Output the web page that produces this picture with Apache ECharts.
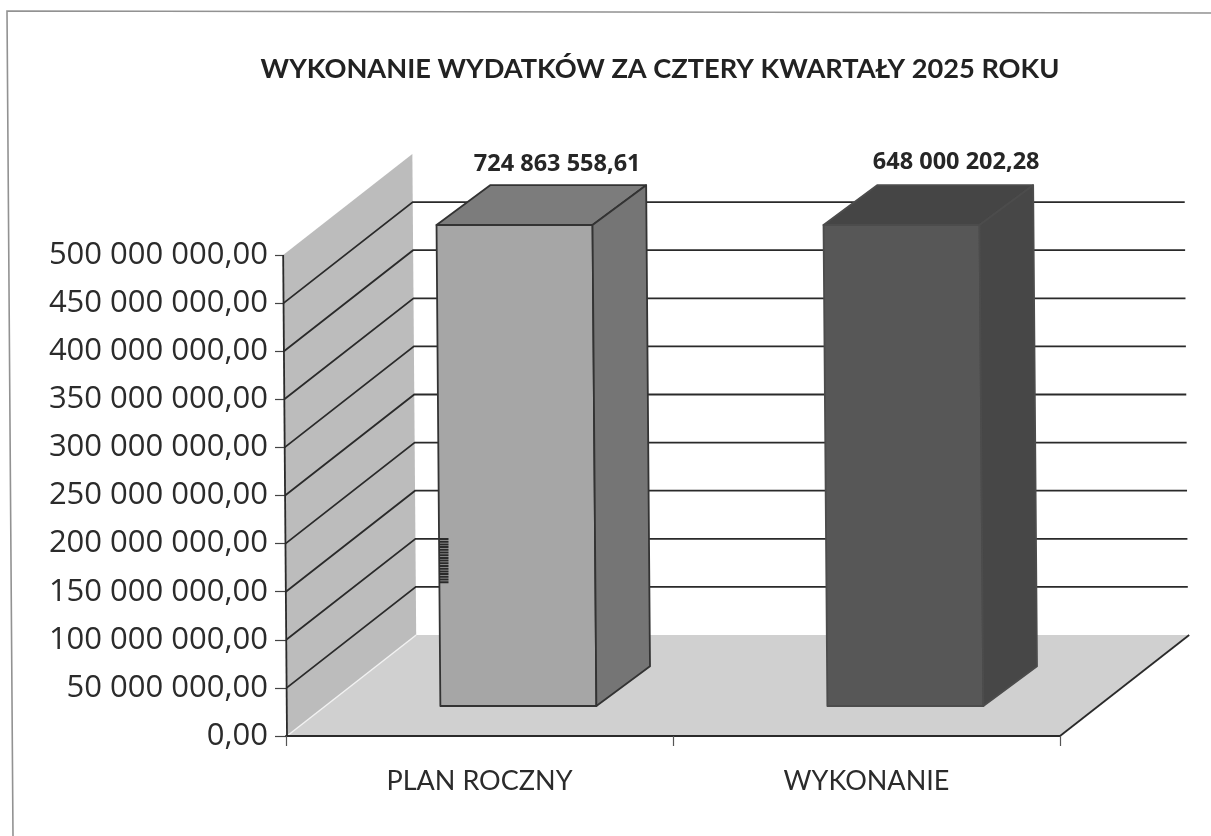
<!DOCTYPE html>
<html><head><meta charset="utf-8">
<style>html,body{margin:0;padding:0;background:#fff}#c{width:1211px;height:836px}</style>
<script src="https://cdn.jsdelivr.net/npm/echarts@6/dist/echarts.min.js"></script>
</head><body><div id="c"></div>
<script>
const titleText = 'WYKONANIE WYDATKÓW ZA CZTERY KWARTAŁY 2025 ROKU';
const categories = ['PLAN ROCZNY', 'WYKONANIE'];
const barValues = [724863558.61, 648000202.28];
const gridValues = [50000000,100000000,150000000,200000000,250000000,300000000,350000000,400000000,450000000];
const axisMax = 500000000, axisStep = 50000000;

const FONT = 'Lato, "Open Sans", sans-serif';
const NUMFONT = '"Open Sans", Lato, sans-serif';
const DX = 130, DY = -101, LEAN = 0.008, INK = '#2a2a2a';
const BAR_FRONT = 0.297, BAR_DEPTH = 0.415, BAR_W = 156;
const barFaces = [
  {front:'#a6a6a6', top:'#7c7c7c', side:'#757575', line:'#333333'},
  {front:'#575757', top:'#454545', side:'#474747', line:'#4c4c4c'}
];
const labelShift = [[16,-21],[28,-23]];

function fmt(v){
  const [i,d] = v.toFixed(2).split('.');
  return i.replace(/\B(?=(\d{3})+$)/g,' ') + ',' + d;
}
function lean(p, y0){ return [p[0] - (y0 - p[1]) * LEAN, p[1]]; }

const chart = echarts.init(document.getElementById('c'), null, {renderer:'canvas'});

function renderFrame(params, api){
  const cs = params.coordSys, y0 = cs.y + cs.height, L = cs.x + 1, R = cs.x + cs.width;
  const yTop = api.coord([0, axisMax])[1];
  const poly = (pts, fill) => ({type:'polygon', shape:{points:pts.map(p=>lean(p,y0))}, style:{fill, stroke:null}});
  const line = (a,b,stroke,w) => { a=lean(a,y0); b=lean(b,y0);
    return {type:'line', shape:{x1:a[0],y1:a[1],x2:b[0],y2:b[1]}, style:{stroke, lineWidth:w}}; };
  return {type:'group', children:[
    poly([[L,y0],[L+DX,y0+DY],[R+DX,y0+DY],[R,y0]], '#d0d0d0'),
    poly([[L,y0],[L,yTop],[L+DX,yTop+DY],[L+DX,y0+DY]], '#bcbcbc'),
    line([L,y0],[L+DX,y0+DY],'#f2f2f2',1.5),
    line([L,y0],[L,yTop],INK,1.8),
    line([R,y0],[R+DX,y0+DY],INK,1.8)
  ]};
}
function renderGrid(params, api){
  const cs = params.coordSys, y0 = cs.y + cs.height, L = cs.x + 1, R = cs.x + cs.width;
  const y = api.coord([0, api.value(0)])[1];
  const a = lean([L,y],y0), b = lean([L+DX,y+DY],y0), c = lean([R+DX-1,y+DY],y0);
  return {type:'polyline', shape:{points:[a,b,c]}, style:{stroke:INK, lineWidth:1.8, fill:null}};
}
function renderBar(params, api){
  const cs = params.coordSys, y0 = cs.y + cs.height;
  const i = api.value(0), v = api.value(1), f = barFaces[i];
  const xc = api.coord([i,0])[0] + DX*BAR_FRONT + 0.5;
  const yb = y0 + DY*BAR_FRONT;
  const h = y0 - api.coord([i, Math.min(v, axisMax)])[1];
  const yt = yb - h;
  const l = xc - BAR_W/2, r = xc + BAR_W/2, dx = DX*BAR_DEPTH, dy = DY*BAR_DEPTH*0.95;
  const P = pts => pts.map(p=>lean(p,y0));
  const st = c => ({fill:c, stroke:f.line, lineWidth:1.8, lineJoin:'round'});
  const topMid = lean([(l+r+dx)/2, yt+dy], y0);
  return {type:'group', children:[
    {type:'polygon', shape:{points:P([[l,yb],[l,yt],[r,yt],[r,yb]])}, style:st(f.front)},
    {type:'polygon', shape:{points:P([[l,yt],[l+dx,yt+dy],[r+dx,yt+dy],[r,yt]])}, style:st(f.top)},
    {type:'polygon', shape:{points:P([[r,yb],[r,yt],[r+dx,yt+dy],[r+dx,yb+dy]])}, style:st(f.side)},
    {type:'text', x:topMid[0]+labelShift[i][0], y:topMid[1]+labelShift[i][1], style:{
      text:fmt(v), fill:'#262626', font:'bold 23.5px '+NUMFONT, textAlign:'center', textVerticalAlign:'middle'}}
  ]};
}

chart.setOption({
  animation:false,
  backgroundColor:'#ffffff',
  title:{text:titleText, left:655, top:51, textAlign:'center',
    textStyle:{fontFamily:FONT, fontWeight:'bold', fontSize:27.2, color:'#222222'}},
  grid:{left:286, right:151, top:255, bottom:100, containLabel:false},
  xAxis:{type:'category', data:categories, z:10,
    axisLine:{lineStyle:{color:INK,width:1.8}},
    axisTick:{show:true,length:10,alignWithLabel:false,lineStyle:{color:'#555',width:1.2}},
    axisLabel:{margin:32, fontFamily:FONT, fontSize:27, color:'#2b2b2b'},
    splitLine:{show:false}},
  yAxis:{type:'value', min:0, max:axisMax, interval:axisStep, z:0,
    axisLine:{show:false},
    axisTick:{show:true,length:11,lineStyle:{color:'#444',width:1.2}},
    axisLabel:{margin:18, fontFamily:NUMFONT, fontSize:31, color:'#2b2b2b', padding:[4,0,0,0], formatter:v=>fmt(v)},
    splitLine:{show:false}},
  series:[
    {name:'frame', type:'custom', data:[[0]], renderItem:renderFrame, clip:false, silent:true, z:2},
    {name:'grid', type:'custom', data:gridValues.map(v=>[v]), renderItem:renderGrid, clip:false, silent:true, z:3},
    {name:'bars', type:'custom', data:barValues.map((v,i)=>[i,v]), renderItem:renderBar, clip:false, z:4,
      encode:{x:0,y:1}}
  ],
  graphic:[
    {type:'polyline', z:20, silent:true, shape:{points:[[13,836],[7,11],[1211,13]]}, style:{stroke:'#929292',lineWidth:1.6,fill:null}},
    {type:'line', z:20, silent:true, shape:{x1:444,y1:538,x2:444,y2:584}, style:{stroke:'#2a2a2a',lineWidth:9,lineDash:[2,0.7]}}
  ]
});
</script></body></html>
